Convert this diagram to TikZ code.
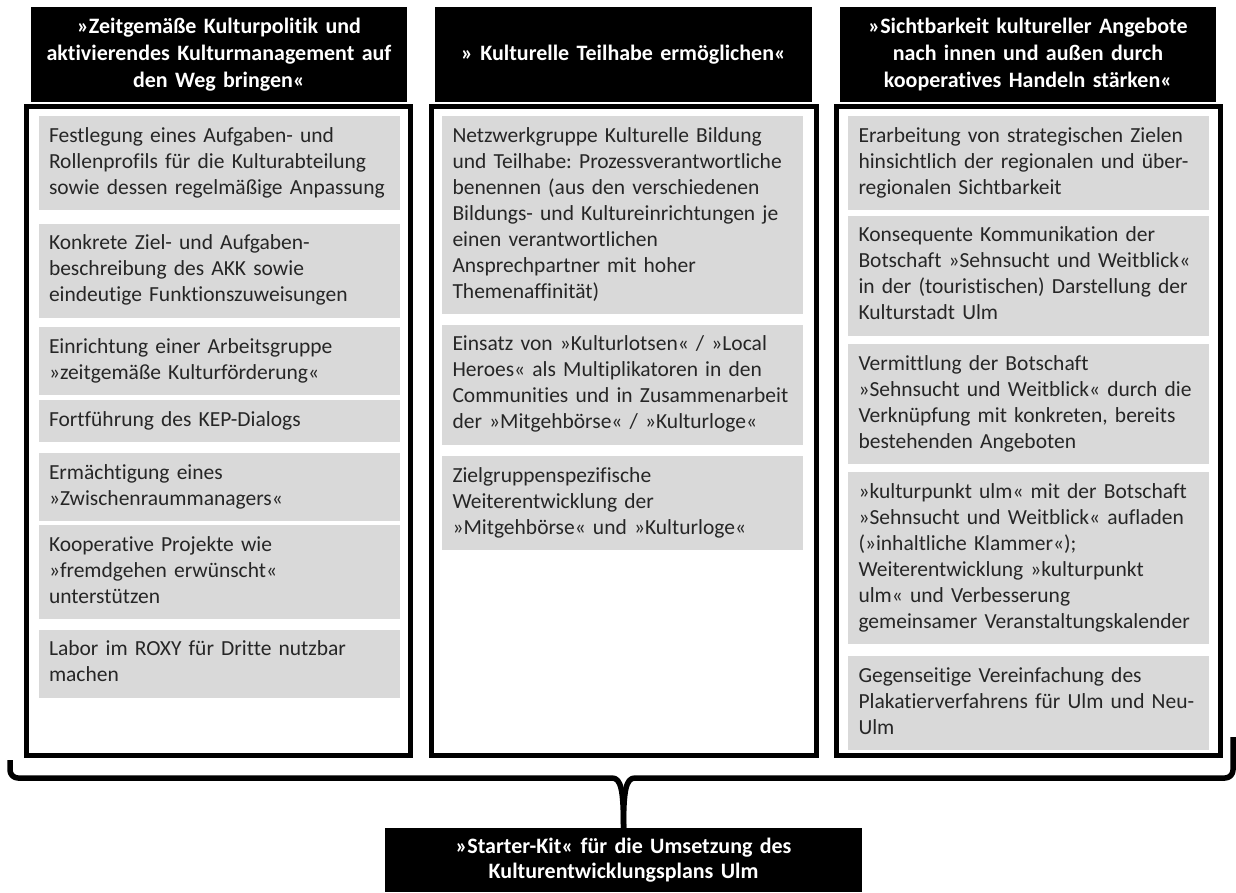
\documentclass[tikz,border=0pt]{standalone}
\usepackage{fontspec}
\setmainfont{Carlito}[RawFeature={-liga;-clig;-calt;-rlig;-dlig}]
\usepackage{tikz}
\usetikzlibrary{positioning}
\definecolor{boxgray}{HTML}{D9D9D9}
\frenchspacing

\begin{document}
\begin{tikzpicture}[x=1pt, y=1pt,
    head/.style={fill=black, text=white, align=center, text width=370pt,
      minimum height=95pt, font=\fontsize{22}{27}\selectfont\bfseries},
    item/.style={fill=boxgray, text=black!85, align=left, text width=340pt,
      inner xsep=10.5pt, inner ysep=8pt, font=\fontsize{21.5}{26}\selectfont,
      execute at begin node=\strut, execute at end node=\strut},
    frame/.style={draw, line width=5pt},
    brace/.style={draw, line width=5.5pt, line join=round}]
    \useasboundingbox (0,0) rectangle (1236,-892);
    % Spalten
    \draw[frame] (26,-106) rectangle (410,-755);
    \draw[frame] (431,-106) rectangle (816,-755);
    \draw[frame] (836,-106) rectangle (1220,-755);
    \node[head] (h1) at (219,-54.5) {»Zeitgemäße Kulturpolitik und\\aktivierendes Kulturmanagement auf\\den Weg bringen«};
    \node[head] (h2) at (623.5,-54.5) {» Kulturelle Teilhabe ermöglichen«};
    \node[head] (h3) at (1028,-54.5) {»Sichtbarkeit kultureller Angebote\\nach innen und außen durch\\kooperatives Handeln stärken«};
    % linke Spalte
    \node[item, anchor=north] (a1) at (219,-116) {Festlegung eines Aufgaben- und\\Rollenprofils für die Kulturabteilung\\sowie dessen regelmäßige Anpassung};
    \node[item] (a2) [below=13pt of a1] {Konkrete Ziel- und Aufgaben-\\beschreibung des AKK sowie\\eindeutige Funktionszuweisungen};
    \node[item] (a3) [below=9pt of a2] {Einrichtung einer Arbeitsgruppe\\»zeitgemäße Kulturförderung«};
    \node[item] (a4) [below=5pt of a3] {Fortführung des KEP-Dialogs};
    \node[item] (a5) [below=10pt of a4] {Ermächtigung eines\\»Zwischenraummanagers«};
    \node[item] (a6) [below=4pt of a5] {Kooperative Projekte wie\\»fremdgehen erwünscht«\\unterstützen};
    \node[item] (a7) [below=10pt of a6] {Labor im ROXY für Dritte nutzbar\\machen};
    % mittlere Spalte
    \node[item, anchor=north] (b1) at (622.5,-116) {Netzwerkgruppe Kulturelle Bildung\\und Teilhabe: Prozessverantwortliche\\benennen (aus den verschiedenen\\Bildungs- und Kultureinrichtungen je\\einen verantwortlichen\\Ansprechpartner mit hoher\\Themenaffinität)};
    \node[item] (b2) [below=10pt of b1] {Einsatz von »Kulturlotsen« / »Local\\Heroes« als Multiplikatoren in den\\Communities und in Zusammenarbeit\\der »Mitgehbörse« / »Kulturloge«};
    \node[item] (b3) [below=11pt of b2] {Zielgruppenspezifische\\Weiterentwicklung der\\»Mitgehbörse« und »Kulturloge«};
    % rechte Spalte
    \node[item, anchor=north] (c1) at (1028.5,-116) {Erarbeitung von strategischen Zielen\\hinsichtlich der regionalen und über-\\regionalen Sichtbarkeit};
    \node[item] (c2) [below=5pt of c1] {Konsequente Kommunikation der\\Botschaft »Sehnsucht und Weitblick«\\in der (touristischen) Darstellung der\\Kulturstadt Ulm};
    \node[item] (c3) [below=8pt of c2] {Vermittlung der Botschaft\\»Sehnsucht und Weitblick« durch die\\Verknüpfung mit konkreten, bereits\\bestehenden Angeboten};
    \node[item] (c4) [below=8pt of c3] {»kulturpunkt ulm« mit der Botschaft\\»Sehnsucht und Weitblick« aufladen\\(»inhaltliche Klammer«);\\Weiterentwicklung »kulturpunkt\\ulm« und Verbesserung\\gemeinsamer Veranstaltungskalender};
    \node[item] (c5) [below=11pt of c4] {Gegenseitige Vereinfachung des\\Plakatierverfahrens für Ulm und Neu-\\Ulm};
    % Klammer und Ergebnis
    \node[head, text width=470pt, minimum height=64pt, font=\fontsize{22}{25}\selectfont\bfseries] (kit) at (623.5,-860) {»Starter-Kit« für die Umsetzung des\\Kulturentwicklungsplans Ulm};
    \coordinate (bl) at (10,-760);
    \coordinate (br) at (1233,-737);
    \path[brace] (bl) -- (10,-770) to[out=-90, in=180] (18,-778) -- (612,-778)
      .. controls (621,-778) and (623.5,-790) .. (kit.north);
    \path[brace] (br) -- (1233,-770) to[out=-90, in=0] (1225,-778) -- (635,-778)
      .. controls (626,-778) and (623.5,-790) .. (kit.north);
\end{tikzpicture}
\end{document}
